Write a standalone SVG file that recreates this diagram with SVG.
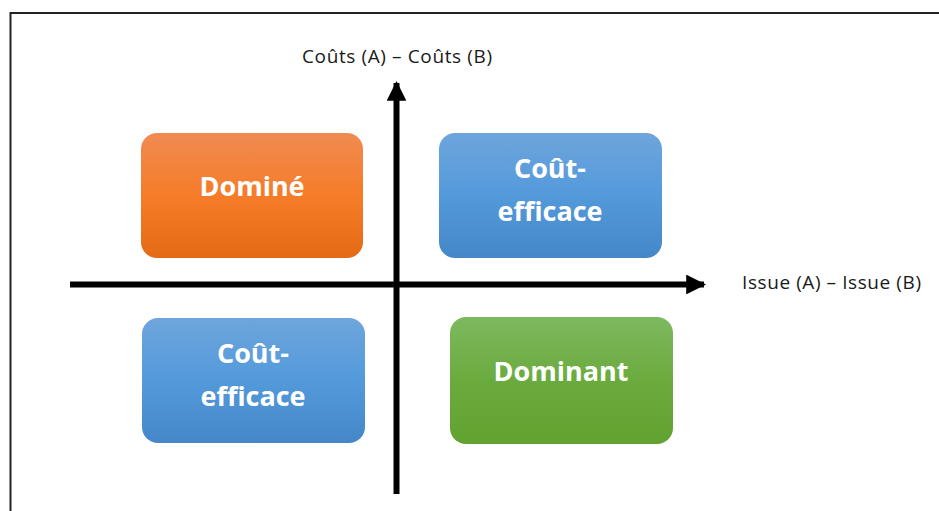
<svg xmlns="http://www.w3.org/2000/svg" width="939" height="511" viewBox="0 0 939 511">
<defs>
<linearGradient id="gOrange" x1="0" y1="0" x2="0" y2="1">
<stop offset="0" stop-color="#F08B52"/><stop offset="0.5" stop-color="#F57C28"/><stop offset="1" stop-color="#E56A16"/>
</linearGradient>
<linearGradient id="gBlue" x1="0" y1="0" x2="0" y2="1">
<stop offset="0" stop-color="#6EA5DC"/><stop offset="0.5" stop-color="#539ADB"/><stop offset="1" stop-color="#4587C8"/>
</linearGradient>
<linearGradient id="gGreen" x1="0" y1="0" x2="0" y2="1">
<stop offset="0" stop-color="#7DB95F"/><stop offset="0.5" stop-color="#6BAB3E"/><stop offset="1" stop-color="#62A230"/>
</linearGradient>
<marker id="arr" viewBox="0 0 10 10" refX="9" refY="5" markerWidth="3.3" markerHeight="3.3" orient="auto" markerUnits="strokeWidth">
<path d="M0,0 L10,5 L0,10 Z" fill="#000"/>
</marker>
</defs>
<style>
.box{stroke:none}
.lbl{font-family:"Open Sans","Noto Sans",sans-serif;font-weight:bold;font-size:27px;fill:#fff;text-anchor:middle}
.ax{font-family:"Open Sans","Noto Sans",sans-serif;font-size:19px;fill:#1a1a1a}
.axis{stroke:#000;stroke-width:6;fill:none}
</style>
<rect x="0" y="0" width="939" height="511" fill="#fff"/>
<rect x="10.5" y="13" width="1000" height="600" fill="none" stroke="#222" stroke-width="2"/>
<g id="connectors">
<line class="axis" x1="70" y1="284.5" x2="704" y2="284.5" marker-end="url(#arr)"/>
<line class="axis" x1="396.5" y1="494" x2="396.5" y2="83" marker-end="url(#arr)"/>
</g>
<g id="n-domine">
<rect class="box" x="141" y="133" width="222" height="125" rx="16" fill="url(#gOrange)"/>
<text class="lbl" x="252" y="196">Dominé</text>
</g>
<g id="n-cout-haut">
<rect class="box" x="439" y="133" width="223" height="125" rx="16" fill="url(#gBlue)"/>
<text class="lbl" x="550" y="178">Coût-</text>
<text class="lbl" x="550" y="221">efficace</text>
</g>
<g id="n-cout-bas">
<rect class="box" x="142" y="318" width="223" height="125" rx="16" fill="url(#gBlue)"/>
<text class="lbl" x="253" y="363">Coût-</text>
<text class="lbl" x="253" y="406">efficace</text>
</g>
<g id="n-dominant">
<rect class="box" x="450" y="317" width="223" height="127" rx="16" fill="url(#gGreen)"/>
<text class="lbl" x="561" y="381">Dominant</text>
</g>
<text class="ax" x="302" y="63" textLength="190">Coûts (A) – Coûts (B)</text>
<text class="ax" x="742" y="289" textLength="179">Issue (A) – Issue (B)</text>
</svg>
